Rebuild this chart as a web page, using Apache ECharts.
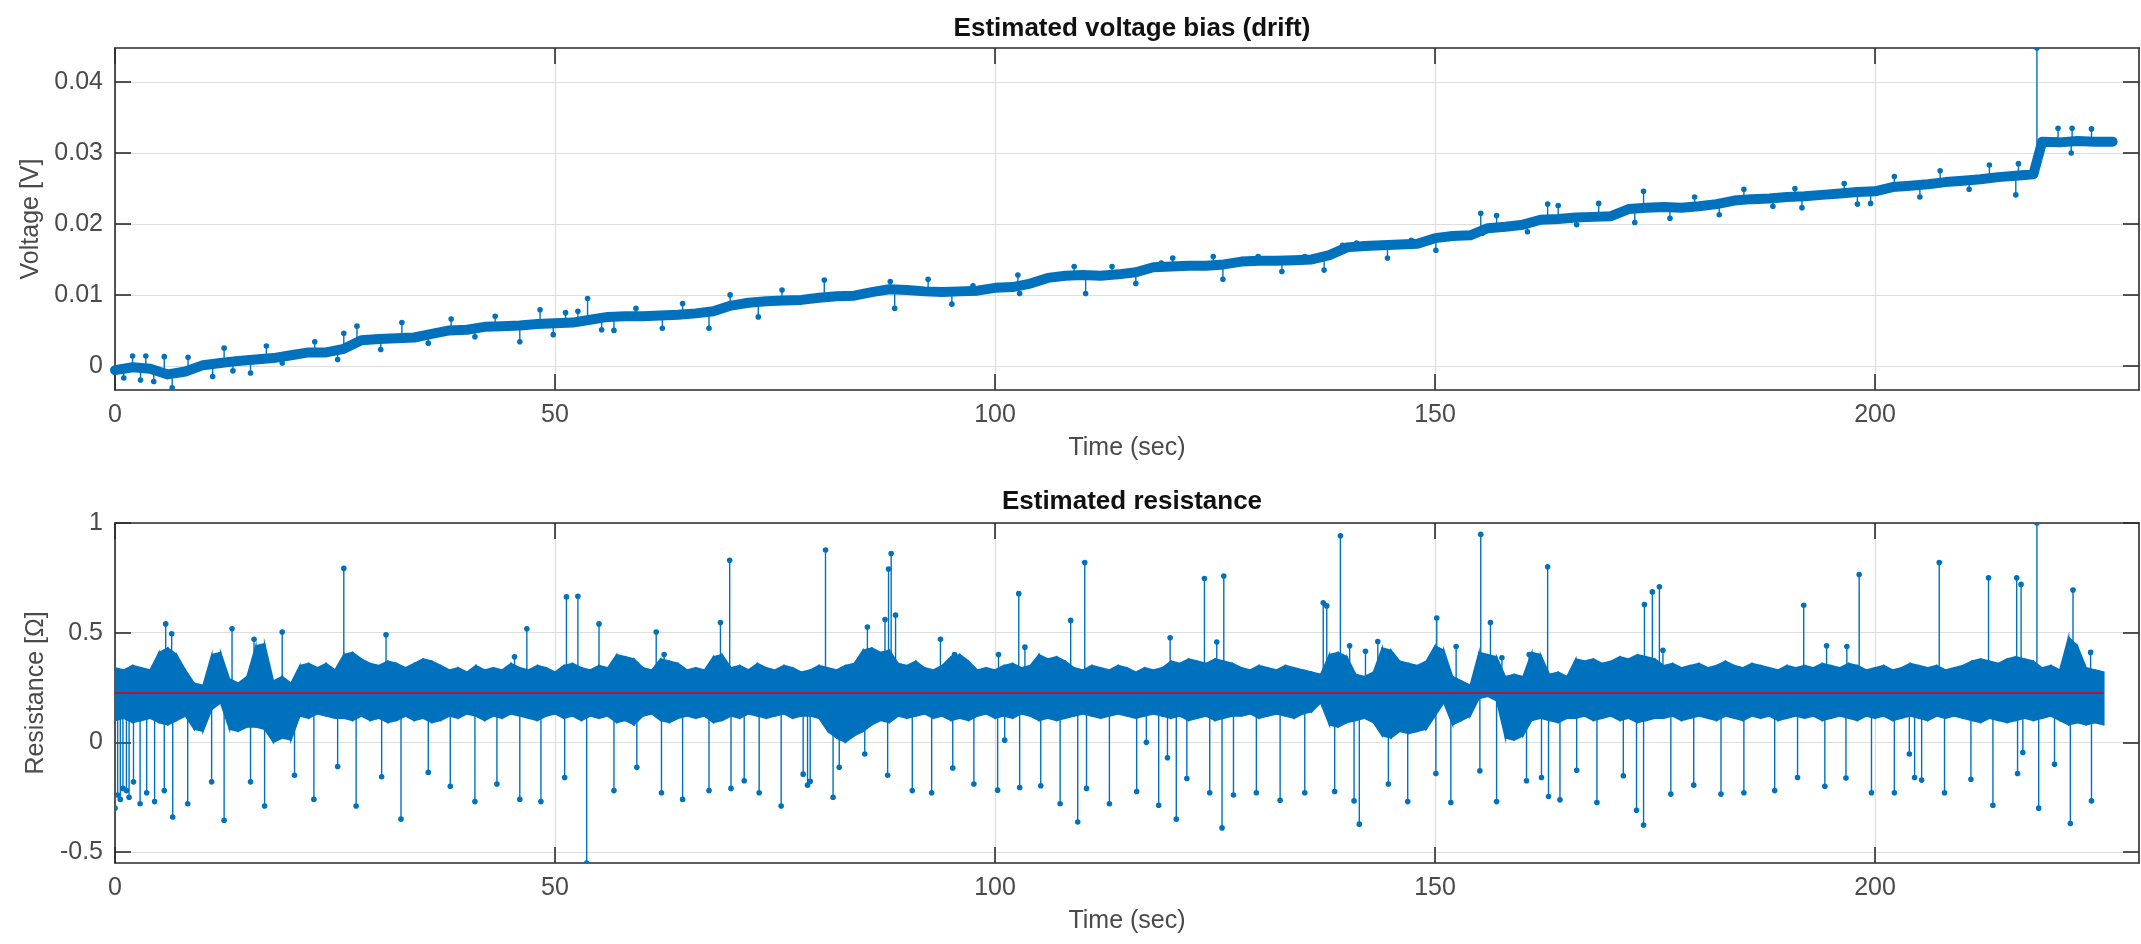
<!DOCTYPE html>
<html>
<head>
<meta charset="utf-8">
<title>Estimated voltage bias and resistance</title>
<script src="https://cdn.jsdelivr.net/npm/echarts@6/dist/echarts.min.js"></script>
<style>
  html, body { margin: 0; padding: 0; background: #fff; }
  #main { width: 2141px; height: 944px; }
</style>
</head>
<body>
<div id="main"></div>
<script>
// ---- data ----
// drift: [time (s), band centre (V)]
const driftCenter = [
  [0,-0.0006],[2,-0.0002],[4,-0.0004],[6,-0.0012],[8,-0.0008],[10,0.0001],[12,0.0004],[14,0.0007],[16,0.0009],[18,0.0011],
  [20,0.0015],[22,0.0019],[24,0.0019],[26,0.0024],[28,0.0036],[30,0.0038],[32,0.0039],[34,0.0040],[36,0.0045],[38,0.0050],
  [40,0.0051],[42,0.0055],[44,0.0056],[46,0.0057],[48,0.0059],[50,0.0060],[52,0.0061],[54,0.0065],[56,0.0069],[58,0.0070],
  [60,0.0070],[62,0.0071],[64,0.0072],[66,0.0074],[68,0.0077],[70,0.0085],[72,0.0089],[74,0.0091],[76,0.0092],[78,0.0093],
  [80,0.0096],[82,0.0098],[84,0.0099],[86,0.0104],[88,0.0108],[90,0.0107],[92,0.0105],[94,0.0104],[96,0.0105],[98,0.0106],
  [100,0.0110],[102,0.0111],[104,0.0116],[106,0.0124],[108,0.0127],[110,0.0128],[112,0.0127],[114,0.0129],[116,0.0132],[118,0.0139],
  [120,0.0140],[122,0.0141],[124,0.0141],[126,0.0143],[128,0.0147],[130,0.0148],[132,0.0148],[134,0.0149],[136,0.0150],[138,0.0156],
  [140,0.0167],[142,0.0169],[144,0.0170],[146,0.0171],[148,0.0172],[150,0.0180],[152,0.0183],[154,0.0184],[156,0.0194],[158,0.0196],
  [160,0.0199],[162,0.0206],[164,0.0207],[166,0.0209],[168,0.0210],[170,0.0211],[172,0.0221],[174,0.0223],[176,0.0224],[178,0.0223],
  [180,0.0225],[182,0.0228],[184,0.0233],[186,0.0235],[188,0.0236],[190,0.0238],[192,0.0239],[194,0.0241],[196,0.0243],[198,0.0245],
  [200,0.0246],[202,0.0252],[204,0.0254],[206,0.0256],[208,0.0259],[210,0.0261],[212,0.0263],[214,0.0266],[216,0.0268],[218,0.0270],
  [219,0.0316],[221,0.0315],[223,0.0317],[225,0.0316],[227,0.0316]
];
// single-sample outliers of the drift: [time, value]
const driftSpikes = [
  [1.0,-0.0017],[2.0,0.0014],[2.9,-0.0020],[3.5,0.0014],[4.4,-0.0022],[5.6,0.0013],[6.5,-0.0031],[8.3,0.0012],[11.1,-0.0015],[12.4,0.0025],
  [13.4,-0.0007],[15.4,-0.0010],[17.2,0.0028],[19.0,0.0004],[22.7,0.0034],[25.3,0.0009],[26.0,0.0046],[27.5,0.0056],[30.2,0.0023],[32.6,0.0061],
  [35.6,0.0032],[38.2,0.0066],[40.9,0.0041],[43.2,0.0070],[46.0,0.0034],[48.3,0.0079],[49.8,0.0044],[51.2,0.0075],[52.6,0.0077],[53.7,0.0095],
  [55.3,0.0051],[56.7,0.0050],[59.2,0.0081],[62.2,0.0053],[64.5,0.0088],[67.5,0.0053],[69.9,0.0100],[73.1,0.0069],[75.8,0.0107],[80.6,0.0121],
  [88.1,0.0119],[88.6,0.0081],[92.4,0.0122],[95.1,0.0087],[97.5,0.0113],[102.6,0.0128],[102.8,0.0102],[109.0,0.0140],[110.3,0.0102],[113.3,0.0140],
  [116.0,0.0116],[118.9,0.0145],[120.2,0.0152],[124.8,0.0154],[125.9,0.0122],[129.9,0.0154],[132.6,0.0133],[135.2,0.0154],[137.4,0.0135],[139.5,0.0170],
  [141.1,0.0173],[144.6,0.0152],[147.3,0.0177],[150.1,0.0163],[155.2,0.0215],[155.4,0.0187],[157.0,0.0212],[160.5,0.0189],[162.8,0.0228],[164.0,0.0226],
  [166.1,0.0199],[168.6,0.0229],[172.7,0.0202],[173.7,0.0246],[176.7,0.0208],[179.5,0.0238],[182.3,0.0213],[185.1,0.0249],[188.4,0.0225],[190.9,0.0250],
  [191.7,0.0223],[196.5,0.0257],[198.0,0.0228],[199.5,0.0229],[202.2,0.0267],[205.1,0.0238],[207.4,0.0275],[210.7,0.0249],[213.0,0.0283],[216.0,0.0241],
  [216.3,0.0285],[218.4,0.0448],[220.8,0.0335],[222.3,0.0300],[222.4,0.0335],[224.6,0.0334]
];

// resistance noise band: [time (s), lower edge, upper edge] (ohm)
const resBand = [
  [0,0.10,0.34],[1,0.11,0.33],[2,0.09,0.35],[3,0.10,0.34],[4,0.11,0.33],[5,0.09,0.41],[6,0.08,0.43],[7,0.10,0.40],[8,0.12,0.33],[9,0.06,0.27],
  [10,0.05,0.26],[11,0.15,0.40],[12,0.18,0.41],[13,0.06,0.29],[14,0.05,0.27],[15,0.07,0.30],[16,0.07,0.44],[17,0.06,0.45],[18,0.00,0.28],[19,0.02,0.30],
  [20,0.01,0.27],[21,0.12,0.35],[22,0.11,0.36],[23,0.13,0.34],[24,0.12,0.36],[25,0.11,0.33],[26,0.11,0.40],[27,0.10,0.41],[28,0.12,0.38],[29,0.10,0.36],
  [30,0.11,0.35],[31,0.09,0.37],[32,0.10,0.36],[33,0.12,0.34],[34,0.10,0.36],[35,0.11,0.38],[36,0.09,0.37],[37,0.10,0.35],[38,0.12,0.33],[39,0.11,0.34],
  [40,0.13,0.32],[41,0.12,0.35],[42,0.10,0.33],[43,0.12,0.34],[44,0.11,0.33],[45,0.13,0.36],[46,0.12,0.34],[47,0.11,0.33],[48,0.10,0.35],[49,0.12,0.34],
  [50,0.13,0.32],[51,0.11,0.35],[52,0.12,0.36],[53,0.10,0.34],[54,0.12,0.33],[55,0.11,0.35],[56,0.12,0.34],[57,0.09,0.40],[58,0.10,0.39],[59,0.08,0.38],
  [60,0.12,0.34],[61,0.13,0.33],[62,0.10,0.38],[63,0.09,0.37],[64,0.11,0.36],[65,0.12,0.33],[66,0.11,0.34],[67,0.12,0.33],[68,0.09,0.39],[69,0.10,0.40],
  [70,0.12,0.34],[71,0.11,0.35],[72,0.13,0.33],[73,0.12,0.36],[74,0.11,0.34],[75,0.12,0.33],[76,0.13,0.35],[77,0.11,0.34],[78,0.12,0.32],[79,0.12,0.33],
  [80,0.11,0.35],[81,0.05,0.34],[82,0.02,0.33],[83,0.00,0.35],[84,0.03,0.36],[85,0.05,0.42],[86,0.08,0.43],[87,0.10,0.41],[88,0.09,0.42],[89,0.12,0.36],
  [90,0.11,0.35],[91,0.12,0.37],[92,0.13,0.34],[93,0.11,0.33],[94,0.12,0.35],[95,0.10,0.39],[96,0.11,0.40],[97,0.10,0.37],[98,0.12,0.33],[99,0.13,0.34],
  [100,0.11,0.33],[101,0.12,0.35],[102,0.11,0.36],[103,0.13,0.34],[104,0.12,0.35],[105,0.10,0.40],[106,0.11,0.38],[107,0.10,0.39],[108,0.11,0.37],[109,0.12,0.34],
  [110,0.13,0.33],[111,0.12,0.35],[112,0.11,0.34],[113,0.12,0.33],[114,0.13,0.35],[115,0.12,0.34],[116,0.11,0.32],[117,0.12,0.34],[118,0.13,0.33],[119,0.12,0.34],
  [120,0.11,0.37],[121,0.12,0.36],[122,0.10,0.38],[123,0.11,0.37],[124,0.12,0.36],[125,0.10,0.38],[126,0.11,0.37],[127,0.12,0.36],[128,0.12,0.34],[129,0.13,0.33],
  [130,0.11,0.35],[131,0.12,0.34],[132,0.13,0.33],[133,0.12,0.35],[134,0.11,0.34],[135,0.13,0.33],[136,0.14,0.32],[137,0.18,0.31],[138,0.08,0.40],[139,0.07,0.41],
  [140,0.09,0.39],[141,0.10,0.31],[142,0.11,0.30],[143,0.09,0.32],[144,0.03,0.43],[145,0.02,0.42],[146,0.05,0.37],[147,0.04,0.36],[148,0.05,0.35],[149,0.06,0.37],
  [150,0.12,0.44],[151,0.18,0.42],[152,0.08,0.30],[153,0.10,0.28],[154,0.12,0.26],[155,0.20,0.41],[156,0.21,0.40],[157,0.19,0.39],[158,0.02,0.30],[159,0.01,0.31],
  [160,0.03,0.30],[161,0.10,0.41],[162,0.11,0.40],[163,0.10,0.31],[164,0.09,0.32],[165,0.11,0.30],[166,0.11,0.38],[167,0.12,0.37],[168,0.10,0.38],[169,0.11,0.36],
  [170,0.12,0.37],[171,0.10,0.39],[172,0.11,0.38],[173,0.09,0.40],[174,0.10,0.39],[175,0.11,0.38],[176,0.11,0.35],[177,0.12,0.36],[178,0.10,0.34],[179,0.11,0.35],
  [180,0.12,0.36],[181,0.11,0.34],[182,0.10,0.35],[183,0.12,0.37],[184,0.11,0.35],[185,0.10,0.34],[186,0.12,0.36],[187,0.11,0.35],[188,0.12,0.34],[189,0.10,0.33],
  [190,0.11,0.35],[191,0.12,0.34],[192,0.11,0.35],[193,0.12,0.34],[194,0.10,0.36],[195,0.11,0.35],[196,0.12,0.34],[197,0.11,0.36],[198,0.10,0.35],[199,0.12,0.33],
  [200,0.11,0.34],[201,0.12,0.35],[202,0.10,0.33],[203,0.11,0.34],[204,0.12,0.36],[205,0.11,0.35],[206,0.10,0.34],[207,0.12,0.35],[208,0.11,0.33],[209,0.12,0.34],
  [210,0.11,0.35],[211,0.10,0.37],[212,0.09,0.38],[213,0.11,0.37],[214,0.10,0.36],[215,0.09,0.38],[216,0.10,0.39],[217,0.11,0.38],[218,0.10,0.37],[219,0.11,0.34],
  [220,0.12,0.35],[221,0.10,0.33],[222,0.08,0.48],[223,0.09,0.44],[224,0.08,0.34],[225,0.09,0.33],[226,0.08,0.32]
];
// single-sample outliers of the resistance: [time, value]
const resSpikes = [
  [0.0,-0.30],[0.3,-0.24],[0.6,-0.26],[0.9,-0.21],[1.3,-0.22],[1.6,-0.25],[2.1,-0.18],[2.85,-0.28],[3.6,-0.23],[4.5,-0.27],
  [5.6,-0.22],[5.76,0.54],[6.44,0.495],[6.56,-0.34],[8.26,-0.28],[10.98,-0.18],[12.4,-0.355],[13.3,0.518],[15.4,-0.18],[15.8,0.47],
  [17.0,-0.29],[19.0,0.503],[20.4,-0.15],[22.6,-0.26],[25.3,-0.11],[26.0,0.793],[27.4,-0.29],[30.3,-0.157],[30.8,0.49],[32.5,-0.35],
  [35.6,-0.137],[38.1,-0.20],[40.9,-0.27],[43.4,-0.19],[45.4,0.39],[46.0,-0.26],[46.8,0.518],[48.4,-0.27],[51.1,-0.16],[51.3,0.663],
  [52.6,0.666],[53.6,-0.55],[55.0,0.54],[56.7,-0.22],[59.3,-0.114],[61.5,0.503],[62.1,-0.23],[62.4,0.40],[64.5,-0.26],[67.5,-0.22],
  [68.8,0.546],[69.85,0.83],[70.0,-0.21],[71.5,-0.175],[73.2,-0.23],[75.7,-0.29],[78.2,-0.145],[78.7,-0.195],[79.0,-0.178],[80.74,0.877],
  [81.6,-0.25],[82.3,-0.114],[85.2,-0.053],[85.5,0.526],[87.5,0.56],[87.8,-0.15],[87.9,0.79],[88.2,0.861],[88.7,0.58],[90.6,-0.22],
  [92.8,-0.23],[93.8,0.47],[95.2,-0.117],[95.4,0.40],[97.6,-0.19],[100.3,-0.218],[100.4,0.40],[101.1,0.01],[102.7,0.678],[102.8,-0.206],
  [103.4,0.434],[105.2,-0.198],[107.4,-0.28],[108.6,0.556],[109.4,-0.363],[110.2,0.82],[110.4,-0.21],[113.0,-0.28],[116.1,-0.224],[117.2,0.0],
  [118.6,-0.287],[119.6,-0.07],[119.9,0.477],[120.6,-0.35],[121.8,-0.165],[123.8,0.747],[124.4,-0.23],[125.2,0.457],[125.8,-0.39],[126.0,0.758],
  [127.1,-0.24],[129.7,-0.23],[132.4,-0.264],[135.2,-0.23],[137.3,0.636],[137.7,0.622],[138.6,-0.224],[139.25,0.942],[140.3,0.44],[140.8,-0.267],
  [141.4,-0.373],[142.1,0.415],[143.5,0.46],[144.7,-0.19],[146.9,-0.27],[150.1,-0.142],[150.2,0.567],[151.8,-0.274],[152.4,0.437],[155.1,-0.13],
  [155.2,0.948],[156.3,0.546],[157.0,-0.27],[157.6,0.386],[160.4,-0.175],[160.7,0.40],[162.1,-0.16],[162.8,0.80],[162.9,-0.247],[164.2,-0.262],
  [166.1,-0.127],[168.4,-0.274],[171.4,-0.152],[172.9,-0.31],[173.7,-0.377],[173.8,0.628],[174.7,0.686],[175.5,0.709],[175.9,0.42],[176.8,-0.236],
  [179.4,-0.195],[182.5,-0.236],[185.1,-0.23],[188.6,-0.22],[191.2,-0.16],[191.9,0.625],[194.3,-0.20],[194.5,0.44],[196.7,-0.163],[196.8,0.437],
  [198.2,0.765],[199.6,-0.23],[202.2,-0.23],[203.9,-0.053],[204.5,-0.16],[205.3,-0.172],[207.3,0.82],[207.9,-0.23],[210.9,-0.168],[212.9,0.75],
  [213.4,-0.287],[216.1,0.75],[216.2,-0.142],[216.6,0.72],[216.8,-0.046],[218.4,1.0],[218.6,-0.30],[220.4,-0.10],[222.2,-0.37],[222.5,0.694],
  [224.5,0.41],[224.6,-0.267]
];
const meanResistance = 0.225;

const timeTicks = [0, 50, 100, 150, 200];
const voltageTicks = [0, 0.01, 0.02, 0.03, 0.04];
const resistanceTicks = [-0.5, 0, 0.5, 1];

// ---- styling ----
const BLUE = '#0072BD';
const RED = '#a8183f';
const AXIS = '#2b2b2b';
const GRID = '#dedede';
const LABEL = '#4a4a4a';
const FONT = 'Liberation Sans, Arial, Helvetica, sans-serif';

const chart = echarts.init(document.getElementById('main'), null, { renderer: 'canvas' });

// MATLAB-like box: bottom+top x axes, left+right y axes, ticks inside
function xAxes(gi) {
  const line = { show: true, onZero: false, lineStyle: { color: AXIS, width: 1.6 } };
  const tick = { show: true, inside: true, length: 16, customValues: timeTicks, lineStyle: { color: AXIS, width: 1.6 } };
  return [{
    gridIndex: gi, type: 'value', min: 0, max: 230, position: 'bottom',
    axisLine: line, axisTick: tick,
    axisLabel: { customValues: timeTicks, color: LABEL, fontSize: 25, fontFamily: FONT, margin: 13 },
    splitLine: { show: true, lineStyle: { color: GRID, width: 1.2 } },
    name: 'Time (sec)', nameLocation: 'middle', nameGap: 46,
    nameTextStyle: { color: LABEL, fontSize: 25, fontFamily: FONT }
  }, {
    gridIndex: gi, type: 'value', min: 0, max: 230, position: 'top',
    axisLine: line, axisTick: tick, axisLabel: { show: false }, splitLine: { show: false }
  }];
}

function yAxes(gi, lo, hi, ticks, name, gap) {
  const line = { show: true, onZero: false, lineStyle: { color: AXIS, width: 1.6 } };
  const tick = { show: true, inside: true, length: 16, customValues: ticks, lineStyle: { color: AXIS, width: 1.6 } };
  return [{
    gridIndex: gi, type: 'value', min: lo, max: hi, position: 'left',
    axisLine: line, axisTick: tick,
    axisLabel: { customValues: ticks, color: LABEL, fontSize: 25, fontFamily: FONT, margin: 12 },
    splitLine: { show: true, lineStyle: { color: GRID, width: 1.2 } },
    name: name, nameLocation: 'middle', nameGap: gap, nameRotate: 90,
    nameTextStyle: { color: LABEL, fontSize: 25, fontFamily: FONT }
  }, {
    gridIndex: gi, type: 'value', min: lo, max: hi, position: 'right',
    axisLine: line, axisTick: tick, axisLabel: { show: false }, splitLine: { show: false }
  }];
}

// nearest drift sample, used as the foot of each drift spike
function driftAt(t) {
  let best = driftCenter[0];
  driftCenter.forEach(function (p) {
    if (Math.abs(p[0] - t) < Math.abs(best[0] - t)) best = p;
  });
  return best[1];
}

function spikeItem(params, api) {
  const foot = api.coord([api.value(0), api.value(2)]);
  const tip = api.coord([api.value(0), api.value(1)]);
  return {
    type: 'group',
    children: [
      { type: 'line', shape: { x1: foot[0], y1: foot[1], x2: tip[0], y2: tip[1] },
        style: { stroke: BLUE, lineWidth: 1.4 } },
      { type: 'circle', shape: { cx: tip[0], cy: tip[1], r: 2.8 }, style: { fill: BLUE } }
    ]
  };
}

// one filled slice of the resistance noise band between sample i and i+1
function bandItem(params, api) {
  const i = params.dataIndex;
  if (i >= resBand.length - 1) return null;
  const a = resBand[i], b = resBand[i + 1];
  const pts = [
    api.coord([a[0], a[1]]), api.coord([a[0], a[2]]),
    api.coord([b[0], b[2]]), api.coord([b[0], b[1]])
  ];
  return { type: 'polygon', shape: { points: pts }, style: { fill: BLUE, stroke: BLUE, lineWidth: 1.5 } };
}

const xs = xAxes(0).concat(xAxes(1));
const ys = yAxes(0, -0.0034, 0.0448, voltageTicks, 'Voltage [V]', 67)
  .concat(yAxes(1, -0.55, 1, resistanceTicks, 'Resistance [\u03A9]', 64));

const bandFirst = resBand[0][0];
const bandLast = resBand[resBand.length - 1][0];

chart.setOption({
  backgroundColor: '#ffffff',
  animation: false,
  title: [{
    text: 'Estimated voltage bias (drift)', left: 1127, top: 11, textAlign: 'center',
    textStyle: { fontSize: 26, fontWeight: 'bold', color: '#111', fontFamily: FONT }
  }, {
    text: 'Estimated resistance', left: 1127, top: 484, textAlign: 'center',
    textStyle: { fontSize: 26, fontWeight: 'bold', color: '#111', fontFamily: FONT }
  }],
  grid: [
    { left: 115, top: 48, width: 2024, height: 342 },
    { left: 115, top: 523, width: 2024, height: 340 }
  ],
  xAxis: xs,
  yAxis: ys,
  series: [
    // ---- voltage drift ----
    {
      name: 'drift', type: 'line', xAxisIndex: 0, yAxisIndex: 0,
      data: driftCenter, symbol: 'none', silent: true,
      lineStyle: { color: BLUE, width: 10, join: 'round', cap: 'round' }
    },
    {
      name: 'drift spikes', type: 'custom', xAxisIndex: 0, yAxisIndex: 0, clip: true,
      renderItem: spikeItem, encode: { x: 0, y: [1, 2] },
      data: driftSpikes.map(function (s) { return [s[0], s[1], driftAt(s[0])]; })
    },
    // ---- resistance ----
    {
      name: 'band', type: 'custom', xAxisIndex: 2, yAxisIndex: 2, clip: true, silent: true,
      renderItem: bandItem, encode: { x: 0, y: [1, 2] },
      data: resBand
    },
    {
      name: 'resistance spikes', type: 'custom', xAxisIndex: 2, yAxisIndex: 2, clip: true,
      renderItem: spikeItem, encode: { x: 0, y: [1, 2] },
      data: resSpikes.map(function (s) { return [s[0], s[1], meanResistance]; })
    },
    {
      name: 'mean', type: 'line', xAxisIndex: 2, yAxisIndex: 2, z: 5,
      data: [[bandFirst, meanResistance], [bandLast, meanResistance]],
      symbol: 'none', silent: true, lineStyle: { color: RED, width: 2.2 }
    }
  ]
});
</script>
</body>
</html>
